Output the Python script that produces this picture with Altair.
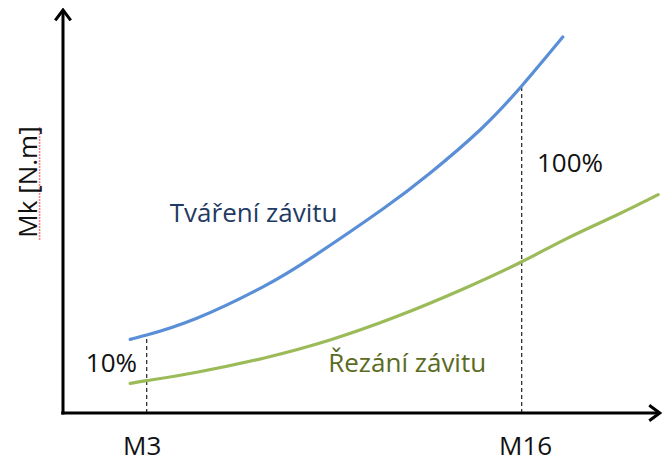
import altair as alt
import pandas as pd

# Coordinate units: x 0..100 along the horizontal arrow, y 0..100 along the vertical arrow
blue_x = [11.2, 13.95, 22.3, 33.4, 41.7, 53.3, 61.2, 69.5, 76.45, 83.3]
blue_y = [18.4, 19.5, 23.7, 31.6, 39.1, 51.0, 60.0, 70.75, 81.75, 94.0]
green_x = [11.2, 13.95, 22.3, 33.4, 44.5, 55.6, 66.7, 76.45, 83.95, 92.3, 99.2]
green_y = [7.4, 8.1, 10.2, 13.7, 18.25, 24.1, 31.0, 37.8, 43.6, 49.5, 54.6]

marker_x = [13.95, 76.45]          # M3, M16
marker_top = [19.5, 81.75]         # where the dashed lines meet the forming curve
tick_labels = ["M3", "M16"]
tick_label_x = [13.2, 77.1]
tick_label_y = -10.5

pct_labels = ["10%", "100%"]
pct_x = [12.35, 79.0]
pct_y = [10.25, 60.25]
pct_align = ["right", "left"]

series_labels = ["Tváření závitu", "Řezání závitu"]
series_label_x = [17.8, 44.2]
series_label_y = [47.75, 10.3]

y_title = "Mk [N.m]"
y_title_pos = (-4.35, 57.75)

x_arrow_end = 99.45
y_arrow_end = 100.75

FONT = "Open Sans"
BLUE = "#5A8FD8"
GREEN = "#9BBB59"
BLUE_TXT = "#1F3B63"
GREEN_TXT = "#5A6B22"

xs = alt.Scale(domain=[-9.1667, 99.8333], nice=False, zero=False)
ys = alt.Scale(domain=[-12.25, 101.25], nice=False, zero=False)


def X(field="x"):
    return alt.X(f"{field}:Q", scale=xs, axis=None)


def Y(field="y"):
    return alt.Y(f"{field}:Q", scale=ys, axis=None)


blue = alt.Chart(pd.DataFrame({"x": blue_x, "y": blue_y})).mark_line(
    color=BLUE, strokeWidth=3.2, interpolate="natural", strokeCap="round"
).encode(x=X(), y=Y())

green = alt.Chart(pd.DataFrame({"x": green_x, "y": green_y})).mark_line(
    color=GREEN, strokeWidth=3.2, interpolate="natural", strokeCap="round"
).encode(x=X(), y=Y())

dash = alt.Chart(pd.DataFrame({"x": marker_x, "y": [0, 0], "y2": marker_top})).mark_rule(
    color="#222222", strokeWidth=1.2, strokeDash=[4, 3]
).encode(x=X(), y=Y(), y2="y2:Q")

x_axis_line = alt.Chart(pd.DataFrame({"x": [-0.3], "x2": [x_arrow_end - 0.2], "y": [0]})).mark_rule(
    color="black", strokeWidth=3
).encode(x=X(), x2="x2:Q", y=Y())

y_axis_line = alt.Chart(pd.DataFrame({"x": [0], "y": [-0.35], "y2": [y_arrow_end - 0.3]})).mark_rule(
    color="black", strokeWidth=3
).encode(x=X(), y=Y(), y2="y2:Q")

arrow_up = alt.Chart(pd.DataFrame({"x": [0], "y": [y_arrow_end]})).mark_point(
    shape="M-1,1.35L0,0L1,1.35", size=240, filled=False, color="black", strokeWidth=3, opacity=1
).encode(x=X(), y=Y())

arrow_right = alt.Chart(pd.DataFrame({"x": [x_arrow_end], "y": [0]})).mark_point(
    shape="M-1.35,-1L0,0L-1.35,1", size=240, filled=False, color="black", strokeWidth=3, opacity=1
).encode(x=X(), y=Y())


def text_layer(xv, yv, txt, color, align, size=26, angle=None):
    kw = dict(font=FONT, fontSize=size, color=color, align=align, baseline="alphabetic")
    if angle is not None:
        kw["angle"] = angle
    return alt.Chart(pd.DataFrame({"x": [xv], "y": [yv], "t": [txt]})).mark_text(**kw).encode(
        x=X(), y=Y(), text="t:N"
    )


texts = [
    text_layer(series_label_x[0], series_label_y[0], series_labels[0], BLUE_TXT, "left"),
    text_layer(series_label_x[1], series_label_y[1], series_labels[1], GREEN_TXT, "left"),
    text_layer(pct_x[0], pct_y[0], pct_labels[0], "#111111", pct_align[0]),
    text_layer(pct_x[1], pct_y[1], pct_labels[1], "#111111", pct_align[1]),
    text_layer(tick_label_x[0], tick_label_y, tick_labels[0], "#111111", "center"),
    text_layer(tick_label_x[1], tick_label_y, tick_labels[1], "#111111", "center"),
    text_layer(y_title_pos[0], y_title_pos[1], y_title, "#111111", "center", size=26, angle=270),
]

squiggle = alt.Chart(pd.DataFrame({"x": [-3.9], "y": [43.3], "y2": [71.5]})).mark_rule(
    color="#F06060", strokeWidth=1.6, strokeDash=[1.5, 1.5]
).encode(x=X(), y=Y(), y2="y2:Q")

chart = alt.layer(
    dash, green, blue, x_axis_line, y_axis_line, arrow_up, arrow_right, squiggle, *texts
).properties(
    width=654, height=454, autosize=alt.AutoSizeParams(type="none"), padding=0
).configure_view(stroke=None)

chart.save("out.html", embed_options={"renderer": "svg", "actions": False})
